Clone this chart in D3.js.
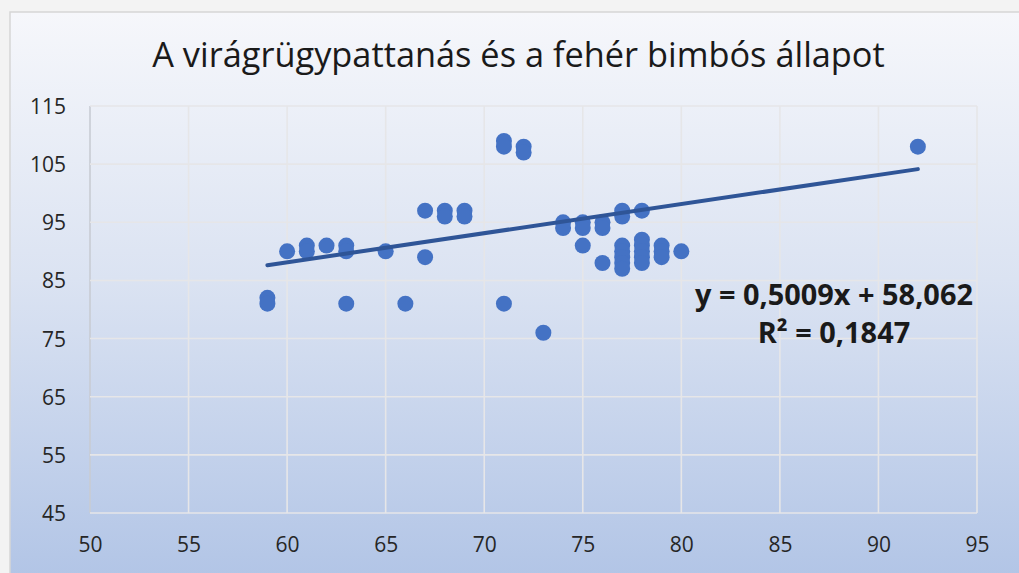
<!DOCTYPE html>
<html>
<head>
<meta charset="utf-8">
<script src="https://cdn.jsdelivr.net/npm/d3@7"></script>
<style>
  html, body { margin: 0; padding: 0; background: #f3f3f3; }
  svg { display: block; }
</style>
</head>
<body>
<svg id="chart" width="1019" height="573"></svg>
<script>
// ---- data ----
const title = "A virágrügypattanás és a fehér bimbós állapot";
const xValues = [59,59,60,61,61,62,63,63,63,65,66,67,67,68,68,69,69,71,71,71,72,72,73,74,74,75,75,75,76,76,76,77,77,77,77,77,77,77,78,78,78,78,78,78,79,79,79,80,92];
const yValues = [82,81,90,91,90,91,91,90,81,90,81,97,89,97,96,97,96,109,108,81,108,107,76,95,94,95,94,91,95,94,88,97,96,91,90,89,88,87,97,92,91,90,89,88,91,90,89,90,108];
const xTicks = [50,55,60,65,70,75,80,85,90,95];
const yTicks = [45,55,65,75,85,95,105,115];
const trendSlope = 0.5009;
const trendIntercept = 58.062;
const equationLines = ["y = 0,5009x + 58,062", "R² = 0,1847"];

// ---- layout ----
const W = 1019, H = 573;
const plot = {left: 90, right: 977, top: 106, bottom: 513};
const svg = d3.select("#chart");

const defs = svg.append("defs");
const grad = defs.append("linearGradient").attr("id", "bg")
  .attr("x1", 0).attr("y1", 0).attr("x2", 0).attr("y2", 1);
grad.append("stop").attr("offset", "0%").attr("stop-color", "#f6f7fb");
grad.append("stop").attr("offset", "45%").attr("stop-color", "#dbe3f2");
grad.append("stop").attr("offset", "100%").attr("stop-color", "#aec2e5");

// chart area
svg.append("rect").attr("x", 10).attr("y", 12).attr("width", W + 20).attr("height", H + 20)
  .attr("fill", "url(#bg)").attr("stroke", "#d6d6d6").attr("stroke-width", 1.5);

const x = d3.scaleLinear().domain([50, 95]).range([plot.left, plot.right]);
const y = d3.scaleLinear().domain([45, 115]).range([plot.bottom, plot.top]);

// gridlines
const grid = svg.append("g");
grid.selectAll("line.v").data(xTicks).join("line")
  .attr("x1", d => x(d)).attr("x2", d => x(d))
  .attr("y1", plot.top).attr("y2", plot.bottom)
  .attr("stroke", d => d === 50 ? "#c8ccd4" : "#e6e6e8").attr("stroke-width", 1.6);
grid.selectAll("line.h").data(yTicks).join("line")
  .attr("x1", plot.left).attr("x2", plot.right)
  .attr("y1", d => y(d)).attr("y2", d => y(d))
  .attr("stroke", "#e6e6e8").attr("stroke-width", 1.6);

// axes labels using d3 axes
const font = "'Open Sans', 'Noto Sans', sans-serif";
const yAxis = svg.append("g").attr("transform", `translate(66,0)`)
  .call(d3.axisLeft(y).tickValues(yTicks).tickSize(0).tickPadding(0).tickFormat(d3.format("d")));
yAxis.select(".domain").remove();
yAxis.selectAll("text").attr("font-family", font).attr("font-size", 21)
  .attr("fill", "#262626").attr("dy", "0.36em").attr("x", 0);

const xAxis = svg.append("g").attr("transform", `translate(0,${plot.bottom})`)
  .call(d3.axisBottom(x).tickValues(xTicks).tickSize(0).tickPadding(0).tickFormat(d3.format("d")));
xAxis.select(".domain").remove();
xAxis.selectAll("text").attr("font-family", font).attr("font-size", 21)
  .attr("fill", "#262626").attr("y", 39).attr("dy", 0);

// points
svg.append("g").selectAll("circle").data(xValues.map((v, i) => [v, yValues[i]])).join("circle")
  .attr("cx", d => x(d[0])).attr("cy", d => y(d[1])).attr("r", 8)
  .attr("fill", "#4472c4");

// trendline
const xMin = d3.min(xValues), xMax = d3.max(xValues);
const trend = [xMin, xMax].map(v => [v, trendSlope * v + trendIntercept]);
svg.append("path").datum(trend)
  .attr("d", d3.line().x(d => x(d[0])).y(d => y(d[1])))
  .attr("stroke", "#2f5597").attr("stroke-width", 4).attr("fill", "none").attr("stroke-linecap", "round");

// helper: fit text to a target width
function fit(sel, target) {
  const w = sel.node().getComputedTextLength();
  const fs = parseFloat(sel.attr("font-size"));
  sel.attr("font-size", fs * target / w);
}

// title
const t = svg.append("text").attr("x", 518.5).attr("y", 67).attr("text-anchor", "middle")
  .attr("font-family", font).attr("font-size", 28).attr("fill", "#1a1a1a").text(title);
fit(t, 733);

// equation
const eq1 = svg.append("text").attr("x", 834).attr("y", 305).attr("text-anchor", "middle")
  .attr("font-family", font).attr("font-weight", "bold").attr("font-size", 22).attr("fill", "#1a1a1a")
  .text(equationLines[0]);
fit(eq1, 278);
const eq2 = svg.append("text").attr("x", 834).attr("y", 343).attr("text-anchor", "middle")
  .attr("font-family", font).attr("font-weight", "bold").attr("font-size", +eq1.attr("font-size")).attr("fill", "#1a1a1a")
  .text(equationLines[1]);
</script>
</body>
</html>
